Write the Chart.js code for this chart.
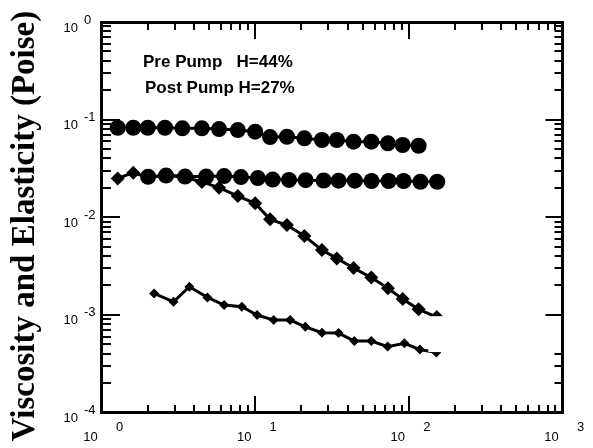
<!DOCTYPE html>
<html>
<head>
<meta charset="utf-8">
<script src="https://cdn.jsdelivr.net/npm/chart.js@4/dist/chart.umd.min.js"></script>
<style>
html,body{margin:0;padding:0;background:#fff;}
#wrap{width:593px;height:448px;position:relative;}
#ov{position:absolute;left:0;top:0;width:593px;height:448px;pointer-events:none;}
#ov div{position:absolute;background:#000;}
</style>
</head>
<body>
<div id="wrap"><canvas id="c" width="593" height="448"></canvas><div id="ov"></div></div>
<script>
// ---- data ----
const preViscX = [1.275, 1.61, 2.0, 2.59, 3.36, 4.5, 5.82, 7.71, 10.0, 12.5, 16.1, 20.9, 27.2, 34.0, 43.7, 57, 73.1, 91.2, 115.8];
const preViscY = [0.0826, 0.0826, 0.0826, 0.0826, 0.0815, 0.0815, 0.080, 0.0782, 0.0752, 0.0663, 0.0668, 0.0643, 0.0618, 0.0618, 0.0594, 0.0594, 0.0572, 0.055, 0.054];

const postViscX = [2.01, 2.63, 3.50, 4.80, 6.28, 8.08, 10.4, 13.0, 16.6, 21.3, 27.9, 34.9, 44.5, 57.2, 73.9, 92.5, 119, 153];
const postViscY = [0.0260, 0.0267, 0.0261, 0.0261, 0.0264, 0.0258, 0.0252, 0.0243, 0.0241, 0.0240, 0.0238, 0.0237, 0.0237, 0.0235, 0.0235, 0.0235, 0.0231, 0.0231];

const preElastX = [1.275, 1.61, 2.0, 2.59, 3.36, 4.5, 5.82, 7.71, 10.0, 12.5, 16.1, 20.9, 27.2, 34.0, 43.7, 57, 73.1, 91.2, 115.8, 152];
const preElastY = [0.0250, 0.0286, 0.0255, 0.0267, 0.0261, 0.0230, 0.0201, 0.0165, 0.0139, 0.00952, 0.00832, 0.00642, 0.00461, 0.00379, 0.00302, 0.00241, 0.00187, 0.00145, 0.00114, 0.00095];

const postElastX = [2.20, 2.94, 3.73, 4.89, 6.28, 8.19, 10.3, 13.2, 16.9, 21.2, 27.2, 34.9, 44.2, 57.0, 72.8, 93.5, 118, 151];
const postElastY = [0.00166, 0.00136, 0.00194, 0.00151, 0.00126, 0.00121, 0.000995, 0.000885, 0.000885, 0.000755, 0.000656, 0.000651, 0.000539, 0.000539, 0.000473, 0.000511, 0.000441, 0.000411];

const X_MIN = 1, X_MAX = 1000, Y_MIN = 0.0001, Y_MAX = 1;
const xTickValues = [1, 10, 100, 1000];
const xTickExps = ['0', '1', '2', '3'];
const yTickValues = [1, 0.1, 0.01, 0.001, 0.0001];
const yTickExps = ['0', '-1', '-2', '-3', '-4'];

const yTitle = 'Viscosity and Elasticity (Poise)';
const noteLines = ['Pre Pump   H=44%', 'Post Pump H=27%'];

// ---- helpers ----
function pts(xs, ys){ return xs.map((x,i)=>({x:x, y:ys[i]})); }

function logTicks(minExp, maxExp){
  const t = [];
  for (let d = minExp; d < maxExp; d++) {
    for (let k = 1; k <= 9; k++) t.push({ value: k * Math.pow(10, d), major: k === 1 });
  }
  t.push({ value: Math.pow(10, maxExp), major: true });
  return t;
}
function isEdge(c){
  const v = c.tick ? c.tick.value : NaN;
  const lo = c.scale.options.min, hi = c.scale.options.max;
  return v <= lo * 1.0001 || v >= hi * 0.9999;
}
function tickLen(c){ return c.tick && c.tick.major ? 17 : 8; }
function spanOf(c, vertical){
  const a = c.scale.chart.chartArea;
  if (!a) return 400;
  return vertical ? (a.bottom - a.top) : (a.right - a.left);
}
function dashStart(c){ if (!c.tick) return []; return [tickLen(c), 100000]; }
function dashEnd(c, vertical){
  if (!c.tick) return [];
  const L = tickLen(c);
  if (!vertical && c.tick.value > 0.00041 && c.tick.value < 0.00099) return [0, 100000];
  return [0, spanOf(c, vertical) - L, L, 100000];
}
const gridBase = { display: true, drawOnChartArea: true, drawTicks: false, color: '#000', lineWidth: (c) => isEdge(c) ? 0 : 2 };
const frameBorder = { display: true, color: '#000', width: 3 };

const decor = {
  id: 'decor',
  afterDatasetsDraw(chart){
    const ctx = chart.ctx, a = chart.chartArea, xs = chart.scales.x, ys = chart.scales.y;
    ctx.save();
    const mx1 = xs.getPixelForValue(134), my1 = ys.getPixelForValue(0.00097), my2 = ys.getPixelForValue(0.000416);
    ctx.fillStyle = '#fff';
    ctx.fillRect(mx1, my1, a.right - 2 - mx1, my2 - my1);
    ctx.restore();
  },
  afterDraw(chart){
    const ctx = chart.ctx, a = chart.chartArea, xs = chart.scales.x, ys = chart.scales.y;
    ctx.save();
    ctx.fillStyle = '#000';
    ctx.font = '13px "Liberation Sans", Arial, sans-serif';
    ctx.textBaseline = 'middle';
    xTickValues.forEach((v,i)=>{
      const px = xs.getPixelForValue(v);
      ctx.textAlign = 'center';
      ctx.fillText('10', px - 11, a.bottom + 25);
      ctx.fillText(xTickExps[i], px + 18, a.bottom + 15);
    });
    yTickValues.forEach((v,i)=>{
      const py = ys.getPixelForValue(v);
      ctx.textAlign = 'right';
      ctx.fillText('10', 78, py + 6);
      ctx.textAlign = 'left';
      ctx.fillText(yTickExps[i], 84, py - 2);
    });
    ctx.font = 'bold 17px "Liberation Sans", Arial, sans-serif';
    ctx.textAlign = 'left';
    ctx.fillText(noteLines[0], 143, 62);
    ctx.fillText(noteLines[1], 145, 88);
    ctx.save();
    ctx.translate(34, 226);
    ctx.rotate(-Math.PI / 2);
    ctx.font = 'bold 33px "Liberation Serif", "Times New Roman", serif';
    ctx.textAlign = 'center';
    ctx.textBaseline = 'alphabetic';
    ctx.fillText(yTitle, 0, 0);
    ctx.restore();
    ctx.restore();
  }
};

const common = { showLine: true, borderColor: '#000', backgroundColor: '#000', borderWidth: 3, pointBorderWidth: 0, clip: false, tension: 0 };

const chart = new Chart(document.getElementById('c'), {
  type: 'scatter',
  data: {
    datasets: [
      Object.assign({ label: 'Pre Pump viscosity', data: pts(preViscX, preViscY), pointStyle: 'circle', pointRadius: 8 }, common),
      Object.assign({ label: 'Post Pump viscosity', data: pts(postViscX, postViscY), pointStyle: 'circle', pointRadius: 8 }, common),
      Object.assign({ label: 'Pre Pump elasticity', data: pts(preElastX, preElastY), pointStyle: 'rectRot', pointRadius: 7 }, common),
      Object.assign({ label: 'Post Pump elasticity', data: pts(postElastX, postElastY), pointStyle: 'rectRot', pointRadius: 5 }, common)
    ]
  },
  options: {
    responsive: false,
    animation: false,
    events: [],
    layout: { padding: { left: 101.5, right: 30.5, top: 22, bottom: 35.5 } },
    plugins: { legend: { display: false }, tooltip: { enabled: false } },
    scales: {
      x: {
        type: 'logarithmic', min: X_MIN, max: X_MAX, position: 'bottom',
        afterBuildTicks: (s) => { s.ticks = logTicks(0, 3); },
        ticks: { display: false },
        border: Object.assign({}, frameBorder, { dash: (c) => dashStart(c) }),
        grid: gridBase
      },
      x2: {
        type: 'logarithmic', min: X_MIN, max: X_MAX, position: 'top',
        afterBuildTicks: (s) => { s.ticks = logTicks(0, 3); },
        ticks: { display: false },
        border: Object.assign({}, frameBorder, { dash: (c) => dashEnd(c, true) }),
        grid: gridBase
      },
      y: {
        type: 'logarithmic', min: Y_MIN, max: Y_MAX, position: 'left',
        afterBuildTicks: (s) => { s.ticks = logTicks(-4, 0); },
        ticks: { display: false },
        border: Object.assign({}, frameBorder, { dash: (c) => dashStart(c) }),
        grid: gridBase
      },
      y2: {
        type: 'logarithmic', min: Y_MIN, max: Y_MAX, position: 'right',
        afterBuildTicks: (s) => { s.ticks = logTicks(-4, 0); },
        ticks: { display: false },
        border: Object.assign({}, frameBorder, { dash: (c) => dashEnd(c, false) }),
        grid: gridBase
      }
    }
  },
  plugins: [decor]
});

// bottom and left axis lines with inward tick marks, placed from the chart's own scales
(function axisOverlay(){
  const ov = document.getElementById('ov');
  const a = chart.chartArea, xs = chart.scales.x, ys = chart.scales.y;
  function box(l, t, w, h){
    const d = document.createElement('div');
    d.style.left = l + 'px'; d.style.top = t + 'px'; d.style.width = w + 'px'; d.style.height = h + 'px';
    ov.appendChild(d);
  }
  box(a.left - 1.5, a.top - 1.5, 3, a.bottom - a.top + 3);
  box(a.left - 1.5, a.bottom - 1.5, a.right - a.left + 3, 3);
  logTicks(0, 3).forEach(t => {
    if (t.value <= X_MIN || t.value >= X_MAX) return;
    const L = t.major ? 17 : 8, px = xs.getPixelForValue(t.value);
    box(px - 1, a.bottom - L, 2, L);
  });
  logTicks(-4, 0).forEach(t => {
    if (t.value <= Y_MIN || t.value >= Y_MAX) return;
    const L = t.major ? 17 : 8, py = ys.getPixelForValue(t.value);
    box(a.left, py - 1, L, 2);
  });
})();
</script>
</body>
</html>
